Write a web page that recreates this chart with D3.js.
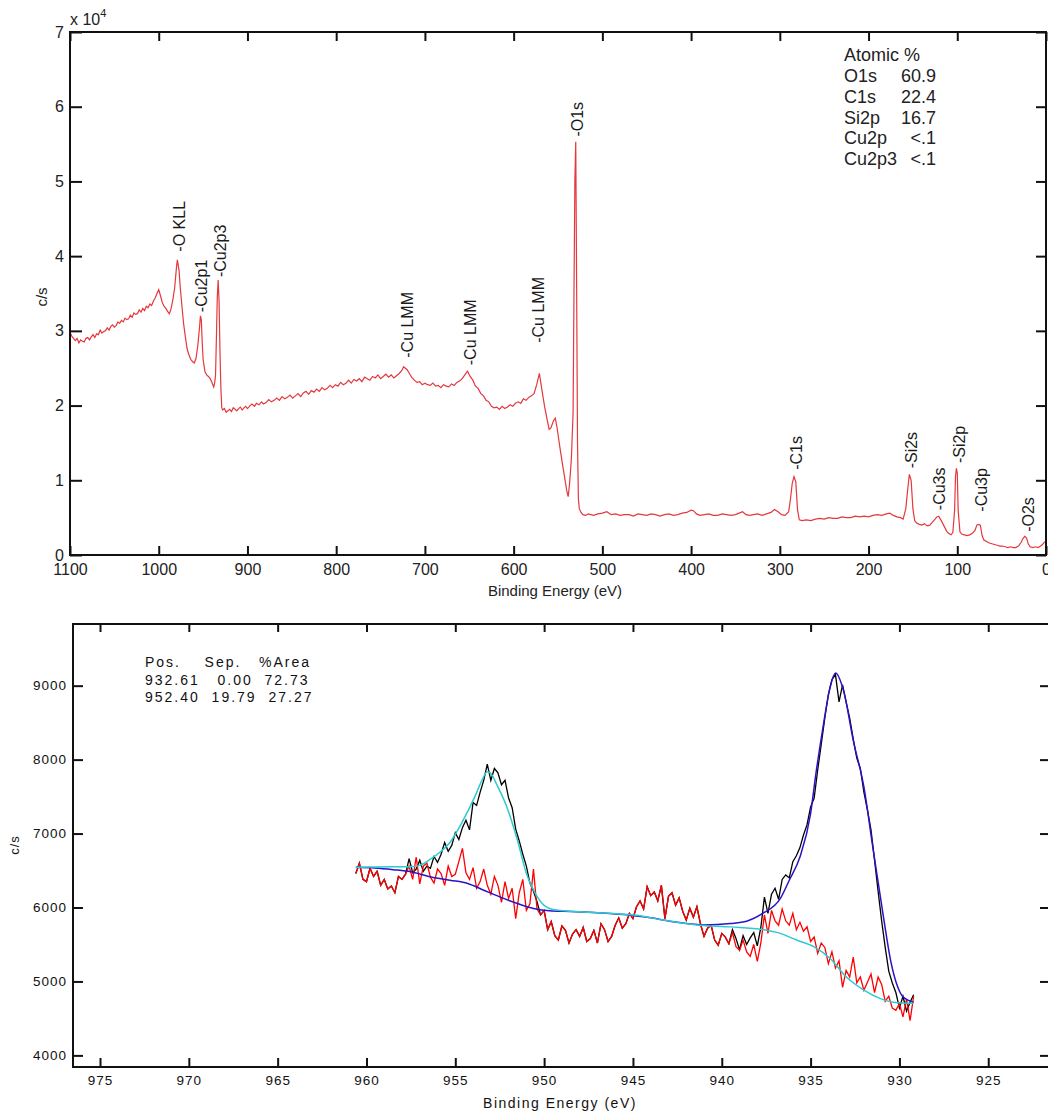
<!DOCTYPE html>
<html>
<head>
<meta charset="utf-8">
<script src="https://cdn.jsdelivr.net/npm/d3@7"></script>
<style>
body { margin: 0; background: #fff; }
svg { display: block; font-family: "Liberation Sans", Arial, Helvetica, sans-serif; }
</style>
</head>
<body>
<svg class="chart" width="1048" height="1113"></svg>
<script>
// ---- survey scan: [binding energy (eV), counts in 1e4 c/s]
var survey = [
    [1100,2.98],[1098,2.93],[1096,2.90],[1094,2.87],[1092,2.90],[1090,2.84],[1088,2.88],[1086,2.86],[1084,2.85],[1082,2.90],
    [1080,2.91],[1078,2.88],[1076,2.92],[1074,2.95],[1072,2.91],[1070,2.96],[1068,2.95],[1066,3.01],[1064,2.97],[1062,2.99],
    [1060,3.00],[1058,3.04],[1056,3.01],[1054,3.06],[1052,3.08],[1050,3.05],[1048,3.07],[1046,3.12],[1044,3.10],[1042,3.14],
    [1040,3.12],[1038,3.17],[1036,3.15],[1034,3.16],[1032,3.21],[1030,3.18],[1028,3.24],[1026,3.22],[1024,3.23],[1022,3.28],
    [1020,3.25],[1018,3.30],[1016,3.27],[1014,3.33],[1012,3.31],[1010,3.36],[1008,3.34],[1006,3.40],[1004,3.44],[1002,3.50],
    [1000,3.55],[998,3.47],[996,3.38],[994,3.33],[992,3.30],[990,3.26],[988,3.23],[986,3.30],[984,3.42],[982,3.58],
    [980,3.85],[979,3.95],[977,3.80],[976,3.62],[974,3.35],[972,3.10],[970,2.92],[968,2.76],[966,2.68],[964,2.62],
    [962,2.59],[960,2.57],[958,2.63],[956,2.80],[954,3.05],[953,3.20],[952,3.15],[951,2.85],[950,2.62],[948,2.46],
    [946,2.41],[944,2.39],[942,2.36],[940,2.31],[938,2.25],[937,2.30],[936,2.40],[935,2.90],[934,3.45],[933,3.68],
    [932,3.40],[931,2.75],[930,2.25],[929,1.98],[928,1.94],[926,1.96],[924,1.91],[922,1.93],[920,1.95],[918,1.92],
    [916,1.97],[914,1.95],[912,1.93],[910,1.96],[908,1.98],[906,1.94],[904,1.97],[902,1.99],[900,1.96],[897,2.00],
    [895,2.02],[892,1.99],[890,2.03],[887,2.01],[884,2.05],[882,2.02],[879,2.04],[876,2.08],[873,2.05],[870,2.07],
    [867,2.10],[864,2.07],[861,2.12],[858,2.09],[855,2.11],[852,2.14],[849,2.10],[846,2.13],[843,2.16],[840,2.12],
    [837,2.17],[834,2.19],[831,2.15],[828,2.20],[825,2.18],[822,2.22],[819,2.19],[816,2.24],[813,2.21],[810,2.23],
    [807,2.27],[804,2.24],[801,2.28],[798,2.26],[795,2.31],[792,2.28],[789,2.30],[786,2.34],[783,2.30],[780,2.35],
    [777,2.33],[774,2.36],[771,2.32],[768,2.38],[765,2.36],[762,2.34],[759,2.39],[756,2.37],[753,2.41],[750,2.36],
    [747,2.39],[744,2.42],[741,2.38],[738,2.41],[735,2.37],[732,2.40],[729,2.43],[726,2.47],[724,2.52],[722,2.50],
    [720,2.48],[718,2.44],[715,2.38],[712,2.34],[709,2.31],[706,2.32],[703,2.28],[700,2.30],[697,2.28],[694,2.27],
    [691,2.30],[688,2.26],[685,2.27],[682,2.24],[679,2.28],[676,2.26],[673,2.25],[670,2.29],[667,2.27],[664,2.31],
    [661,2.33],[658,2.36],[655,2.41],[652,2.46],[649,2.39],[646,2.34],[643,2.26],[640,2.23],[637,2.16],[634,2.13],
    [631,2.07],[628,2.05],[625,1.99],[622,1.97],[619,1.98],[616,1.95],[613,1.99],[610,1.96],[607,1.98],[604,2.01],
    [601,1.99],[598,2.03],[595,2.05],[592,2.03],[589,2.09],[586,2.07],[583,2.11],[580,2.13],[577,2.16],[574,2.28],
    [571,2.43],[568,2.20],[565,1.98],[562,1.80],[560,1.68],[558,1.70],[555,1.80],[553,1.83],[551,1.70],[548,1.45],
    [545,1.22],[542,1.00],[540,0.85],[538.5,0.78],[537,0.95],[535,1.27],[533,1.90],[532,3.50],[531,5.00],[530,5.53],
    [529,3.60],[528,1.50],[527,0.75],[526,0.62],[524,0.57],[522,0.54],[519,0.53],[516,0.55],[513,0.54],[510,0.53],
    [505,0.55],[500,0.56],[495,0.58],[490,0.54],[485,0.55],[480,0.53],[475,0.54],[470,0.54],[465,0.52],[460,0.55],
    [455,0.54],[450,0.53],[445,0.55],[440,0.54],[435,0.52],[430,0.54],[425,0.55],[420,0.53],[415,0.54],[410,0.56],
    [405,0.57],[400,0.60],[397,0.59],[394,0.55],[390,0.53],[385,0.54],[380,0.55],[375,0.53],[370,0.53],[365,0.55],
    [360,0.54],[355,0.53],[350,0.54],[346,0.56],[342,0.58],[338,0.54],[334,0.53],[330,0.54],[325,0.55],[320,0.53],
    [315,0.55],[310,0.57],[306,0.61],[302,0.58],[298,0.54],[294,0.53],[290,0.58],[288,0.75],[286,0.96],[284,1.05],
    [282,0.98],[280,0.60],[278,0.47],[275,0.46],[270,0.47],[265,0.46],[260,0.48],[255,0.49],[250,0.48],[245,0.50],
    [240,0.49],[235,0.49],[230,0.51],[225,0.50],[220,0.50],[215,0.52],[210,0.51],[205,0.52],[200,0.51],[195,0.53],
    [190,0.54],[185,0.53],[180,0.55],[176,0.56],[172,0.53],[168,0.51],[164,0.50],[161,0.48],[158,0.62],[156,0.86],
    [154,1.08],[152,1.00],[150,0.62],[148,0.46],[146,0.43],[143,0.41],[140,0.40],[137,0.42],[134,0.39],[131,0.40],
    [128,0.44],[125,0.48],[123,0.51],[121,0.52],[118,0.46],[115,0.39],[112,0.32],[110,0.29],[107,0.27],[105,0.30],
    [103,0.60],[102,1.05],[101,1.16],[100,1.10],[99,0.60],[97,0.31],[95,0.28],[92,0.27],[89,0.26],[86,0.27],
    [83,0.29],[80,0.33],[78,0.40],[76,0.41],[74,0.40],[72,0.26],[70,0.20],[67,0.18],[64,0.16],[61,0.15],
    [58,0.14],[55,0.13],[52,0.12],[49,0.12],[46,0.11],[43,0.10],[40,0.11],[37,0.10],[34,0.10],[31,0.12],
    [28,0.17],[26,0.22],[24,0.25],[22,0.23],[20,0.15],[18,0.11],[15,0.10],[12,0.11],[9,0.10],[6,0.12],
    [4,0.14],[2,0.17],[0,0.18]
];
var surveyXTicks = [1100, 1000, 900, 800, 700, 600, 500, 400, 300, 200, 100, 0];
var surveyYTicks = [0, 1, 2, 3, 4, 5, 6, 7];

// peak labels: name, energy, level of label foot (1e4 c/s)
var peakNames = ["O KLL", "Cu2p1", "Cu2p3", "Cu LMM", "Cu LMM", "Cu LMM", "O1s", "C1s", "Si2s", "Cu3s", "Si2p", "Cu3p", "O2s"];
var peakEnergy = [978, 952.5, 932, 721, 650, 573, 529.5, 283, 153, 121, 98.5, 74, 21.5];
var peakLabelLevel = [4.06, 3.25, 3.72, 2.64, 2.54, 2.84, 5.6, 1.14, 1.16, 0.6, 1.23, 0.58, 0.31];

var atomicNames = ["O1s", "C1s", "Si2p", "Cu2p", "Cu2p3"];
var atomicValues = ["60.9", "22.4", "16.7", "<.1", "<.1"];

// ---- Cu2p high resolution scan, 0.2 eV steps from 960.6 eV
var cuStart = 960.6;
var cuStep = 0.2;
var cuRaw = [
    6460,6600,6380,6350,6530,6420,6490,6300,6380,6250,6290,6200,6420,6380,6450,6660,6470,6520,6640,6490,
    6560,6530,6690,6610,6720,6880,6760,6840,7010,6920,7080,7180,7050,7420,7380,7560,7720,7940,7720,7880,
    7820,7660,7720,7480,7350,7060,6900,6720,6560,6330,6220,6080,5900,5960,5700,5810,5620,5560,5750,5690,
    5520,5640,5700,5610,5730,5540,5580,5690,5520,5780,5700,5540,5610,5760,5860,5720,5780,5920,5850,6010,
    6090,5980,6280,6160,6210,6090,6300,5850,6150,6200,6030,6130,5950,5830,5990,5870,6010,5780,5610,5720,
    5760,5560,5490,5650,5600,5510,5700,5580,5430,5620,5500,5590,5660,5480,5730,6140,5920,6180,6260,6110,
    6380,6440,6400,6620,6700,6810,6980,7120,7360,7480,7860,8210,8560,8880,9080,9150,8780,9010,8780,8560,
    8280,8020,7880,7560,7320,7050,6640,6220,5820,5460,5140,4980,4850,4640,4800,4600,4720,4820
];
var cuResidual = [
    6460,6600,6380,6350,6530,6420,6490,6300,6380,6250,6290,6200,6420,6380,6450,6560,6380,6680,6320,6560,
    6600,6410,6330,6520,6460,6300,6560,6420,6450,6620,6800,6470,6380,6540,6260,6350,6520,6300,6180,6420,
    6300,6070,6350,6120,6260,5850,6200,6380,5960,6050,6520,5980,5900,5960,5700,5810,5620,5560,5750,5690,
    5520,5640,5700,5610,5730,5540,5580,5690,5520,5780,5700,5540,5610,5760,5860,5720,5780,5920,5850,6010,
    6090,5980,6280,6160,6210,6090,6300,5850,6150,6200,6030,6130,5950,5830,5990,5870,6010,5780,5610,5720,
    5760,5560,5490,5650,5600,5510,5660,5470,5420,5560,5400,5340,5500,5270,5520,5900,5650,5960,5820,5760,
    5980,5820,5760,5920,5700,5800,5680,5740,5540,5600,5380,5520,5460,5240,5400,5180,5280,4920,5150,5060,
    5330,4980,5060,4880,4990,5100,4850,5060,4960,4730,4800,4640,4610,4700,4520,4760,4470,4800
];
// fitted envelopes [energy, c/s]
var fitCu2p1 = [
    [960.6,6545],[959.5,6548],[958.5,6550],[957.5,6552],[957.0,6570],[956.4,6653],[955.8,6760],[955.3,6880],
    [954.6,7160],[953.9,7500],[953.5,7720],[953.2,7835],[952.9,7780],[952.7,7680],[952.1,7360],[951.5,6910],
    [951.0,6460],[950.5,6190],[950.0,6030],[949.3,5965],[947.8,5940],[945.9,5915],[944.6,5890],[943.3,5830],
    [941.4,5765],[939.5,5738],[937.7,5703],[936.7,5650],[935.8,5560],[934.8,5468],[933.9,5311],[933.0,5063],
    [932.0,4883],[931.1,4771],[930.1,4712],[929.2,4704]
];
var fitCu2p3 = [
    [960.6,6545],[959.5,6535],[958.5,6512],[957.5,6482],[956.5,6420],[955.3,6369],[954.3,6325],[953.4,6234],
    [952.5,6144],[951.5,6054],[950.6,5987],[949.7,5955],[948.5,5945],[947.0,5930],[945.5,5905],[944.0,5860],
    [942.5,5800],[941.0,5765],[939.5,5784],[938.6,5815],[937.7,5919],[936.7,6122],[936.2,6369],[935.6,6684],
    [935.0,7271],[934.7,7811],[934.3,8441],[933.9,8981],[933.6,9170],[933.15,8936],[932.6,8261],[932.0,7630],
    [931.5,6819],[930.9,5873],[930.5,5289],[930.1,4928],[929.8,4793],[929.2,4720]
];
var fitPos = ["932.61", "952.40"];
var fitSep = ["0.00", "19.79"];
var fitArea = ["72.73", "27.27"];
var cuXTicks = [975, 970, 965, 960, 955, 950, 945, 940, 935, 930, 925];
var cuYTicks = [4000, 5000, 6000, 7000, 8000, 9000];

var chart = d3.select(".chart");
var fmt = d3.format("d");

// ================= survey panel =================
var xS = d3.scaleLinear().domain([1100, 0]).range([70, 1046]);
var yS = d3.scaleLinear().domain([0, 7]).range([555, 32]);

var surv = chart.append("g");

surv.append("path")
    .datum(survey)
    .attr("fill", "none")
    .attr("stroke", "#e5383d")
    .attr("stroke-width", 1.2)
    .attr("d", d3.line().x(function(d) { return xS(d[0]); }).y(function(d) { return yS(d[1]); }));

function styleAxis(g, size) {
    g.select(".domain").remove();
    g.selectAll(".tick line").attr("stroke", "#111").attr("stroke-width", 2);
    g.selectAll(".tick text").attr("fill", "#222").style("font-size", size + "px");
}

surv.append("g").attr("transform", "translate(0,555)")
    .call(d3.axisBottom(xS).tickValues(surveyXTicks).tickFormat(fmt).tickSize(-9).tickPadding(9))
    .call(styleAxis, 16);
surv.append("g").attr("transform", "translate(0,32)")
    .call(d3.axisTop(xS).tickValues(surveyXTicks).tickSize(-9).tickFormat(""))
    .call(styleAxis, 16);
surv.append("g").attr("transform", "translate(70,0)")
    .call(d3.axisLeft(yS).tickValues(surveyYTicks).tickFormat(fmt).tickSize(-12).tickPadding(6))
    .call(styleAxis, 16);
surv.append("g").attr("transform", "translate(1046,0)")
    .call(d3.axisRight(yS).tickValues(surveyYTicks).tickSize(-10).tickFormat(""))
    .call(styleAxis, 16);

surv.append("rect")
    .attr("x", 70).attr("y", 32).attr("width", 976).attr("height", 523)
    .attr("fill", "none").attr("stroke", "#111").attr("stroke-width", 2);

var expo = surv.append("text").attr("x", 70).attr("y", 25).attr("fill", "#222").style("font-size", "16px");
expo.append("tspan").text("x 10");
expo.append("tspan").attr("dy", -8).style("font-size", "11px").text("4");

surv.append("text")
    .attr("transform", "translate(47,297) rotate(-90)")
    .attr("text-anchor", "middle")
    .attr("fill", "#222")
    .style("font-size", "15px")
    .text("c/s");

surv.append("text")
    .attr("x", 555).attr("y", 596)
    .attr("text-anchor", "middle")
    .attr("fill", "#222")
    .style("font-size", "15px")
    .text("Binding Energy (eV)");

surv.selectAll("text.peak")
    .data(peakNames)
    .enter()
    .append("text")
    .attr("class", "peak")
    .attr("transform", function(d, i) {
        return "translate(" + (xS(peakEnergy[i]) + 1) + "," + yS(peakLabelLevel[i]) + ") rotate(-90)";
    })
    .attr("dy", "0.35em")
    .attr("fill", "#1a1a1a")
    .style("font-size", "16px")
    .text(function(d) { return "-" + d; });

var atomic = surv.append("g").attr("fill", "#222").style("font-size", "18px");
atomic.append("text").attr("x", 844).attr("y", 61).text("Atomic %");
atomic.selectAll("text.el")
    .data(atomicNames)
    .enter()
    .append("text")
    .attr("class", "el")
    .attr("x", 844)
    .attr("y", function(d, i) { return 82 + i * 20.8; })
    .text(function(d) { return d; });
atomic.selectAll("text.val")
    .data(atomicValues)
    .enter()
    .append("text")
    .attr("class", "val")
    .attr("x", 936)
    .attr("y", function(d, i) { return 82 + i * 20.8; })
    .attr("text-anchor", "end")
    .text(function(d) { return d; });

// ================= Cu2p panel =================
var xC = d3.scaleLinear().domain([976.52, 921.58]).range([73, 1049]);
var yC = d3.scaleLinear().domain([3843, 9834]).range([1067, 624]);

var bot = chart.append("g");

function cuPoints(vals) {
    return vals.map(function(v, i) { return [cuStart - i * cuStep, v]; });
}

var line = d3.line().x(function(d) { return xC(d[0]); }).y(function(d) { return yC(d[1]); });
var smooth = d3.line().curve(d3.curveMonotoneX).x(function(d) { return xC(d[0]); }).y(function(d) { return yC(d[1]); });

bot.append("path").datum(cuPoints(cuRaw))
    .attr("fill", "none").attr("stroke", "#000").attr("stroke-width", 1.3).attr("d", line);
bot.append("path").datum(cuPoints(cuResidual))
    .attr("fill", "none").attr("stroke", "#ff0000").attr("stroke-width", 1.3).attr("d", line);
bot.append("path").datum(fitCu2p3)
    .attr("fill", "none").attr("stroke", "#2a12c8").attr("stroke-width", 1.5).attr("d", smooth);
bot.append("path").datum(fitCu2p1)
    .attr("fill", "none").attr("stroke", "#2ccbcf").attr("stroke-width", 1.5).attr("d", smooth);

function styleAxis2(g) {
    g.select(".domain").remove();
    g.selectAll(".tick line").attr("stroke", "#111").attr("stroke-width", 2);
    g.selectAll(".tick text").attr("fill", "#111").style("font-size", "13.5px").style("letter-spacing", "1px");
}

bot.append("g").attr("transform", "translate(0,1067)")
    .call(d3.axisBottom(xC).tickValues(cuXTicks).tickFormat(fmt).tickSize(-9).tickPadding(8))
    .call(styleAxis2);
bot.append("g").attr("transform", "translate(0,624)")
    .call(d3.axisTop(xC).tickValues(cuXTicks).tickSize(-8).tickFormat(""))
    .call(styleAxis2);
bot.append("g").attr("transform", "translate(73,0)")
    .call(d3.axisLeft(yC).tickValues(cuYTicks).tickFormat(fmt).tickSize(-10).tickPadding(6))
    .call(styleAxis2);
bot.append("g").attr("transform", "translate(1049,0)")
    .call(d3.axisRight(yC).tickValues(cuYTicks).tickSize(-9).tickFormat(""))
    .call(styleAxis2);

bot.append("rect")
    .attr("x", 73).attr("y", 624).attr("width", 976).attr("height", 443)
    .attr("fill", "none").attr("stroke", "#111").attr("stroke-width", 2);

bot.append("text")
    .attr("transform", "translate(19,845) rotate(-90)")
    .attr("text-anchor", "middle")
    .attr("fill", "#111")
    .style("font-size", "13px")
    .style("letter-spacing", "1px")
    .text("c/s");

bot.append("text")
    .attr("x", 560).attr("y", 1108)
    .attr("text-anchor", "middle")
    .attr("fill", "#111")
    .style("font-size", "14px")
    .style("letter-spacing", "1.5px")
    .text("Binding Energy (eV)");

var tableRows = ["Pos.    Sep.   %Area"].concat(fitPos.map(function(p, i) {
    return p + " " + fitSep[i].padStart(6) + "  " + fitArea[i];
}));
bot.selectAll("text.fit")
    .data(tableRows)
    .enter()
    .append("text")
    .attr("class", "fit")
    .attr("x", 145)
    .attr("y", function(d, i) { return 667 + i * 17.5; })
    .attr("fill", "#111")
    .style("font-size", "14px")
    .style("letter-spacing", "2px")
    .style("white-space", "pre")
    .text(function(d) { return d; });
</script>
</body>
</html>
